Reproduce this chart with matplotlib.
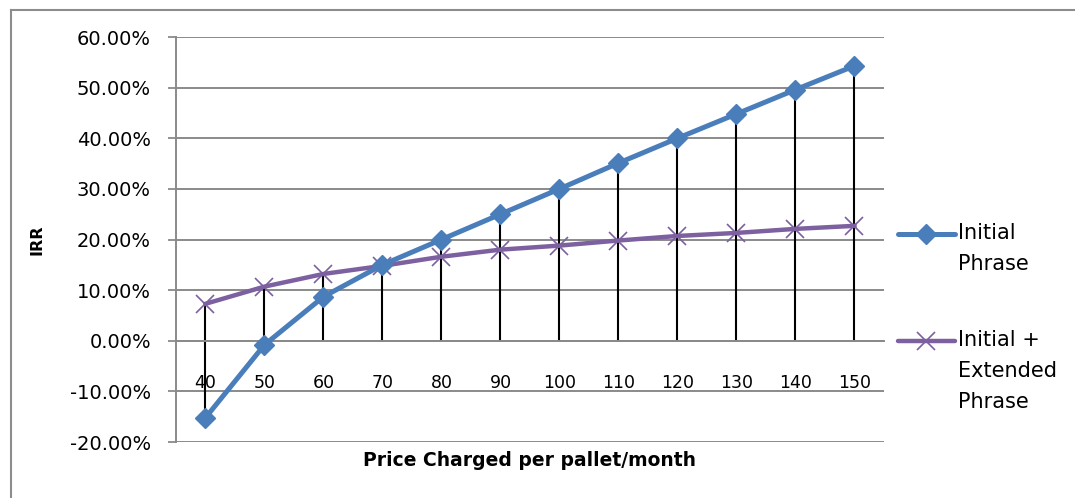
import matplotlib.pyplot as plt
from matplotlib.lines import Line2D
from matplotlib.ticker import PercentFormatter

plt.rcParams['font.family'] = ['DejaVu Sans']
plt.rcParams['axes.unicode_minus'] = False

prices = ['40', '50', '60', '70', '80', '90', '100', '110', '120', '130', '140', '150']
initial = [-15.2, -0.8, 8.7, 15.0, 20.0, 25.0, 30.0, 35.1, 40.0, 44.8, 49.6, 54.3]
extended = [7.3, 10.7, 13.2, 14.8, 16.6, 18.0, 18.8, 19.8, 20.7, 21.3, 22.1, 22.7]
names = ['Initial\nPhrase', 'Initial +\nExtended\nPhrase']

blue = '#4A7EBB'
purple = '#7D60A0'
grid = '#8a8a8a'

fig = plt.figure(figsize=(10.75, 4.98), dpi=100)
ax = fig.add_axes([0.1637, 0.1124, 0.6586, 0.8133])

x = list(range(len(prices)))

# drop lines
tops = [max(a, b) for a, b in zip(initial, extended)]
bots = [min(0, a, b) for a, b in zip(initial, extended)]
ax.vlines(x, bots, tops, color='black', lw=1.5, zorder=2)

ax.plot(x, initial, color=blue, lw=3.6, marker='D', ms=10.5,
        mfc=blue, mec=blue, zorder=4)
ax.plot(x, extended, color=purple, lw=3.2, marker='x', ms=13, mew=1.2,
        mec=purple, zorder=3)

ax.set_xlim(-0.5, len(prices) - 0.5)
ax.set_ylim(-20, 60)
ax.set_yticks(range(-20, 61, 10))
ax.yaxis.set_major_formatter(PercentFormatter(decimals=2))
ax.grid(axis='y', color=grid, lw=1.4)
ax.set_axisbelow(True)

ax.set_xticks(x)
ax.set_xticklabels(prices, color='#3a3a3a')
ax.tick_params(axis='x', length=0, pad=24, labelsize=12.5)
ax.tick_params(axis='y', length=6, width=1.3, color=grid, labelsize=14, pad=12)

for s in ['top', 'right']:
    ax.spines[s].set_visible(False)
ax.spines['bottom'].set_position(('data', 0))
ax.spines['bottom'].set_color(grid)
ax.spines['bottom'].set_linewidth(1.4)
ax.spines['left'].set_color(grid)
ax.spines['left'].set_linewidth(1.4)

ax.set_ylabel('IRR', fontsize=11.5, fontweight='bold')
ax.yaxis.set_label_coords(-0.186, 0.5)
ax.set_xlabel('Price Charged per pallet/month', fontsize=13.5, fontweight='bold')
ax.xaxis.set_label_coords(0.5, -0.022)

# legend, handle beside the first line of each label
leg_y = [0.5136, 0.2494]
for name, y, c, m, ms, mew, lw in zip(names, leg_y, [blue, purple], ['D', 'x'],
                                      [10, 13], [1, 1.2], [3.6, 3.2]):
    ax.add_line(Line2D([1.0198, 1.1003], [y, y], transform=ax.transAxes,
                       color=c, lw=lw, solid_capstyle='round', clip_on=False))
    ax.add_line(Line2D([1.06], [y], transform=ax.transAxes, color=c, marker=m,
                       ms=ms, mew=mew, mfc=c, mec=c, clip_on=False))
    ax.text(1.104, y + 0.026, name, transform=ax.transAxes, fontsize=15,
            va='top', ha='left', linespacing=1.68)

# outer chart border
fig.add_artist(Line2D([11 / 1075, 11 / 1075], [0, 1 - 10 / 498], color='#8c8c8c', lw=1.5))
fig.add_artist(Line2D([11 / 1075, 1.01], [1 - 10 / 498, 1 - 10 / 498], color='#8c8c8c', lw=1.5))

fig.savefig('out.png', dpi=100)
